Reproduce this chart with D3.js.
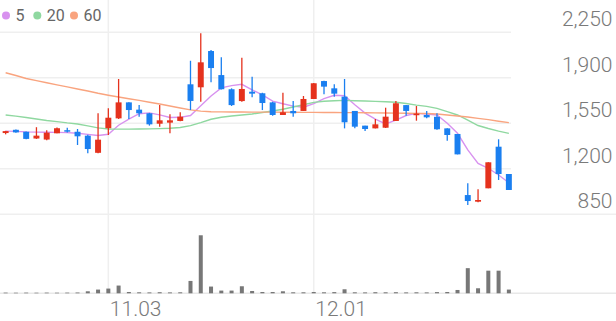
<!DOCTYPE html>
<html>
<head>
<meta charset="utf-8">
<script src="https://cdn.jsdelivr.net/npm/d3@7"></script>
<style>
  html, body { margin: 0; padding: 0; background: #fff; }
  svg { display: block; font-family: Roboto, "Noto Sans", sans-serif; }
</style>
</head>
<body>
<svg id="chart" width="616" height="321"></svg>
<script>
// Trading days (MM.DD)
var dates = [
    "10.20", "10.21", "10.22", "10.23", "10.24", "10.27", "10.28", "10.29", "10.30", "10.31",
    "11.03", "11.04", "11.05", "11.06", "11.07", "11.10", "11.11", "11.12", "11.13", "11.14",
    "11.17", "11.18", "11.19", "11.20", "11.21", "11.24", "11.25", "11.26", "11.27", "11.28",
    "12.01", "12.02", "12.03", "12.04", "12.05", "12.08", "12.09", "12.10", "12.11", "12.12",
    "12.15", "12.16", "12.17", "12.18", "12.19", "12.22", "12.23", "12.24", "12.26", "12.29"
];

var open  = [1475, 1500, 1485, 1433, 1425, 1473, 1497, 1485, 1455, 1323,
             1512, 1588, 1711, 1655, 1627, 1547, 1555, 1568, 1850, 1827,
             2106, 1921, 1812, 1721, 1793, 1781, 1711, 1614, 1645, 1645,
             1737, 1875, 1819, 1755, 1645, 1532, 1511, 1516, 1568, 1690,
             1612, 1614, 1600, 1511, 1468, 998, 947, 1050, 1370, 1160];
var high  = [1492, 1502, 1487, 1520, 1496, 1517, 1516, 1506, 1462, 1627,
             1665, 1891, 1712, 1690, 1630, 1690, 1619, 1635, 2031, 2242,
             2114, 2058, 1819, 2055, 1908, 1785, 1716, 1785, 1721, 1760,
             1860, 1877, 1850, 1891, 1645, 1532, 1583, 1670, 1721, 1690,
             1683, 1645, 1627, 1511, 1468, 1088, 1042, 1250, 1427, 1160];
var low   = [1465, 1478, 1428, 1430, 1420, 1473, 1480, 1383, 1319, 1320,
             1460, 1583, 1583, 1600, 1532, 1524, 1473, 1565, 1652, 1716,
             1865, 1810, 1683, 1716, 1750, 1652, 1608, 1614, 1600, 1645,
             1737, 1773, 1754, 1511, 1511, 1491, 1511, 1514, 1568, 1608,
             1570, 1588, 1500, 1416, 1311, 921, 942, 1050, 1114, 1037];
var close = [1490, 1480, 1430, 1455, 1478, 1512, 1487, 1450, 1352, 1424,
             1593, 1711, 1652, 1627, 1542, 1573, 1573, 1601, 1722, 2019,
             1975, 1812, 1690, 1814, 1778, 1706, 1614, 1635, 1627, 1737,
             1858, 1832, 1778, 1558, 1524, 1506, 1542, 1601, 1704, 1645,
             1625, 1596, 1504, 1460, 1311, 952, 960, 1250, 1160, 1037];

// Volume (thousand shares)
var volume = [70, 60, 70, 60, 70, 60, 70, 80, 200, 370,
              470, 770, 130, 100, 90, 110, 90, 100, 1230, 5770,
              670, 270, 270, 700, 230, 130, 130, 200, 100, 100,
              130, 100, 120, 400, 100, 90, 110, 100, 110, 90,
              100, 90, 120, 130, 330, 2500, 500, 2250, 2250, 370];

// Moving averages
var ma5  = [1490, 1488, 1484, 1482, 1481, 1480, 1478, 1473, 1465, 1456,
            1466, 1535, 1582, 1624, 1630, 1615, 1595, 1596, 1610, 1685,
            1760, 1822, 1840, 1850, 1808, 1768, 1720, 1700, 1682, 1674,
            1702, 1740, 1766, 1762, 1692, 1628, 1582, 1545, 1575, 1610,
            1626, 1622, 1614, 1550, 1473, 1345, 1242, 1204, 1152, 1093];
var ma20 = [1614, 1605, 1595, 1583, 1572, 1563, 1553, 1545, 1530, 1515,
            1506, 1505, 1505, 1506, 1507, 1509, 1512, 1518, 1532, 1555,
            1581, 1597, 1606, 1614, 1622, 1633, 1645, 1658, 1675, 1693,
            1711, 1720, 1724, 1726, 1724, 1722, 1719, 1716, 1712, 1702,
            1690, 1680, 1665, 1640, 1614, 1575, 1533, 1510, 1490, 1473];
var ma60 = [1939, 1918, 1895, 1878, 1862, 1846, 1830, 1814, 1798, 1781,
            1766, 1752, 1739, 1726, 1712, 1698, 1683, 1668, 1653, 1644,
            1639, 1638, 1637, 1637, 1636, 1636, 1636, 1635, 1635, 1634,
            1634, 1633, 1633, 1632, 1632, 1631, 1630, 1629, 1628, 1627,
            1626, 1625, 1622, 1614, 1606, 1598, 1588, 1578, 1566, 1555];

var priceTicks = [850, 1200, 1550, 1900, 2250];
var dateTicks = ["11.03", "12.01"];

var legend = [
    { label: "5", color: "#d892ef", values: ma5 },
    { label: "20", color: "#8fd8a0", values: ma20 },
    { label: "60", color: "#f9a47f", values: ma60 }
];

var upColor = "#e5321d";
var downColor = "#1a7ff0";
var gridColor = "#efefef";

var svg = d3.select("#chart");
var width = 616;

// Scales
var x = d3.scaleBand()
    .domain(dates)
    .range([0.5, 514])
    .paddingInner(0.42)
    .paddingOuter(0.21);
var cx = function(d) { return x(d) + x.bandwidth() / 2; };

var y = d3.scaleLinear()
    .domain([850, 2250])
    .range([214.3, 32.3]);

var yVol = d3.scaleLinear()
    .domain([0, d3.max(volume) * 1.16])
    .range([293.3, 226]);

// Vertical grid at month starts
svg.append("g").selectAll("line")
    .data(dateTicks)
    .join("line")
    .attr("x1", d => cx(d))
    .attr("x2", d => cx(d))
    .attr("y1", 0)
    .attr("y2", 293)
    .attr("stroke", gridColor)
    .attr("stroke-width", 1.5);

// Horizontal price grid
svg.append("g").selectAll("line")
    .data(priceTicks)
    .join("line")
    .attr("x1", 0)
    .attr("x2", d => d == 850 ? width : 511)
    .attr("y1", d => y(d))
    .attr("y2", d => y(d))
    .attr("stroke", gridColor)
    .attr("stroke-width", 1.5);

// Volume baseline
svg.append("line")
    .attr("x1", 0).attr("x2", width)
    .attr("y1", yVol(0)).attr("y2", yVol(0))
    .attr("stroke", "#e8e8e8")
    .attr("stroke-width", 1.5);

// Price labels
svg.append("g").selectAll("text")
    .data(priceTicks)
    .join("text")
    .attr("x", 612.5)
    .attr("y", d => y(d) - 6)
    .attr("text-anchor", "end")
    .attr("font-size", 21)
    .attr("font-weight", 300)
    .attr("fill", "#7a7a7a")
    .text(d => d3.format(",")(d));

// Date labels
svg.append("g").selectAll("text")
    .data(dateTicks)
    .join("text")
    .attr("x", d => cx(d) + 1.5)
    .attr("y", 316)
    .attr("font-size", 21)
    .attr("font-weight", 300)
    .attr("fill", "#7a7a7a")
    .text(d => d);

// Moving average lines
legend.forEach(function(s) {
    var line = d3.line()
        .x((v, i) => cx(dates[i]))
        .y(v => y(v));
    svg.append("path")
        .datum(s.values)
        .attr("d", line)
        .attr("fill", "none")
        .attr("stroke", s.color)
        .attr("stroke-width", 1.4);
});

// Candles
var candles = dates.map(function(d, i) {
    return { date: d, o: open[i], h: high[i], l: low[i], c: close[i], v: volume[i] };
});
var col = d => d.c >= d.o ? upColor : downColor;

var g = svg.append("g");
g.selectAll("line.wick")
    .data(candles)
    .join("line")
    .attr("class", "wick")
    .attr("x1", d => cx(d.date))
    .attr("x2", d => cx(d.date))
    .attr("y1", d => y(d.h))
    .attr("y2", d => y(d.l))
    .attr("stroke", col)
    .attr("stroke-width", 1.3);
g.selectAll("rect.body")
    .data(candles)
    .join("rect")
    .attr("class", "body")
    .attr("x", d => x(d.date))
    .attr("width", x.bandwidth())
    .attr("y", d => y(Math.max(d.o, d.c)))
    .attr("height", d => Math.max(1.5, Math.abs(y(d.o) - y(d.c))))
    .attr("fill", col);

// Volume bars
svg.append("g").selectAll("rect")
    .data(candles)
    .join("rect")
    .attr("x", d => cx(d.date) - 2)
    .attr("width", 4)
    .attr("y", d => yVol(d.v))
    .attr("height", d => yVol(0) - yVol(d.v))
    .attr("fill", "#777777");

// Legend
var lx = [6, 37.3, 74];
var lg = svg.append("g").selectAll("g")
    .data(legend)
    .join("g")
    .attr("transform", (d, i) => "translate(" + lx[i] + ",0)");
lg.append("circle")
    .attr("cx", 0)
    .attr("cy", 15.5)
    .attr("r", 4)
    .attr("fill", d => d.color);
lg.append("text")
    .attr("x", 9.5)
    .attr("y", 20.8)
    .attr("font-size", 16)
    .attr("fill", "#666666")
    .text(d => d.label);
</script>
</body>
</html>
